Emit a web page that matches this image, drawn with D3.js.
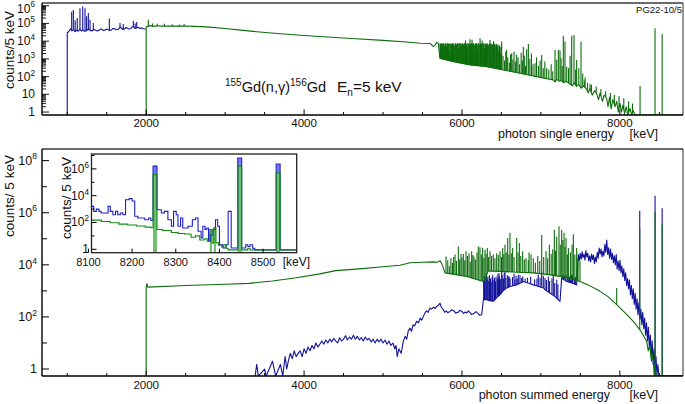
<!DOCTYPE html>
<html><head><meta charset="utf-8">
<script src="https://cdn.jsdelivr.net/npm/d3@7"></script>
<style>
body{margin:0;background:#fff}
svg{display:block}
text{font-family:"Liberation Sans",Arial,Helvetica,sans-serif;fill:#111}
</style></head>
<body><svg id="c" width="685" height="404"></svg>
<script>
// ---------------- DATA ----------------
const xMajorTicks = [2000, 4000, 6000, 8000];
const xMinorTicks = [1000,1500,2500,3000,3500,4500,5000,5500,6500,7000,7500,8500];
const topYLabels = [[1,"1",""],[10,"10",""],[1e2,"10","2"],[1e3,"10","3"],[1e4,"10","4"],[1e5,"10","5"],[1e6,"10","6"]];
const botYLabels = [[1,"1",""],[1e2,"10","2"],[1e4,"10","4"],[1e6,"10","6"],[1e8,"10","8"]];
const insetXTicks = [8100, 8200, 8300, 8400, 8500];
const insetYLabels = [[1,"1",""],[1e2,"10","2"],[1e4,"10","4"],[1e6,"10","6"]];

// single-energy spectrum (top), [keV, counts]
const singleBlueBase = [[1000,3.0e4],[1020,3.5e4],[1040,5.0e4],[1060,3.8e4],[1080,4.5e4],[1100,3.4e4],[1120,4.2e4],[1140,3.6e4],[1160,4.8e4],[1180,3.7e4],[1200,4.2e4],[1220,3.6e4],[1240,3.8e4],[1260,4.6e4],[1280,4.4e4],[1300,3.8e4],[1320,3.9e4],[1340,4.5e4],[1360,4.1e4],[1380,3.8e4],[1400,4.0e4],[1420,4.8e4],[1440,4.6e4],[1460,4.0e4],[1480,4.2e4],[1500,4.8e4],[1520,4.4e4],[1540,4.0e4],[1560,4.3e4],[1580,5.2e4],[1600,5.0e4],[1620,4.4e4],[1640,4.5e4],[1660,5.5e4],[1680,6.0e4],[1700,4.6e4],[1720,4.8e4],[1740,5.8e4],[1760,5.5e4],[1780,4.8e4],[1800,5.0e4],[1820,6.2e4],[1840,6.5e4],[1860,5.2e4],[1880,5.5e4],[1900,6.0e4],[1920,5.2e4],[1940,5.6e4],[1960,5.0e4],[1995,4.8e4]];
const singleBluePeaks = [[1056,4.6e5],[1077,5.8e5],[1100,1.5e5],[1127,2.0e5],[1161,7.2e5],[1196,8.9e5],[1225,7.2e5],[1245,2.5e5],[1267,3.9e5],[1288,1.6e5],[1330,1.07e5],[1533,1.9e5],[1668,1.07e5],[1710,9.4e4],[1837,1.4e5],[1860,1.0e5],[1880,1.2e5]];
const singleGreenBase = [[2000,6.5e4],[2050,7.5e4],[2100,6.8e4],[2150,7.4e4],[2200,7.0e4],[2300,7.2e4],[2400,7.0e4],[2500,7.1e4],[2600,6.8e4],[2700,6.6e4],[2800,6.2e4],[3000,5.2e4],[3200,4.2e4],[3400,3.4e4],[3700,2.6e4],[4000,2.1e4],[4300,1.7e4],[4600,1.4e4],[5000,1.1e4],[5300,9.0e3],[5469,7.6e3],[5600,7.3e3],[5637,4.9e3],[5660,6.0e3],[5680,8.5e3],[5700,7.5e3],[5722,1.07e3],[5891,690],[6102,450],[6313,360],[6524,235],[6735,154],[6946,100],[7158,64],[7180,50],[7200,70],[7230,55],[7260,60],[7290,45],[7320,55],[7369,38],[7400,30],[7420,45],[7450,28],[7480,35],[7510,22],[7540,30],[7580,19],[7600,12],[7620,22],[7650,9],[7680,16],[7707,11],[7730,5],[7750,12],[7780,4],[7800,9],[7833,6],[7850,2],[7870,7],[7890,1.5],[7910,5],[7940,2],[7960,4],[7980,1],[8002,3.1],[8020,1],[8040,2.5],[8060,0.8],[8080,2],[8100,0.7],[8129,1.6],[8150,0.6],[8170,1.2],[8192,0.5],[8800,0.5]];
const singleGreenPeaks = [[2027,1.6e5],[2080,1.0e5],[2140,9.5e4],[2230,9.5e4],[2330,9.0e4],[2420,8.8e4],[2480,9.2e4],
[5722,7.5e3],[5728,7e3],[5735,6e3],[5742,7.5e3],[5748,7.5e3],[5754,6.5e3],[5760,4e3],[5768,7.5e3],[5775,7e3],[5782,5.5e3],[5790,7.5e3],[5797,7e3],[5805,5e3],[5811,7.5e3],[5818,7.5e3],[5824,6e3],[5830,7e3],[5838,7.5e3],[5845,3e3],[5852,7e3],[5860,7.5e3],[5866,6.5e3],[5872,7e3],[5880,7.5e3],[5888,7.5e3],[5894,7e3],[5900,5e3],[5908,6e3],[5915,7.5e3],[5922,7.5e3],[5930,6.5e3],[5938,7e3],[5945,7.5e3],[5952,7.5e3],[5958,4e3],[5965,6.5e3],[5972,7.5e3],[5978,7.5e3],[5985,7e3],[5992,6e3],[6000,7.5e3],[6007,7.5e3],[6015,5.5e3],[6022,7e3],[6030,7.5e3],[6037,7.5e3],[6045,1.1e4],[6052,6e3],[6058,7e3],[6065,7.5e3],[6072,4.5e3],[6080,7e3],[6088,7.5e3],[6094,7.5e3],[6102,1.27e4],[6108,6.5e3],[6115,7e3],[6122,7.5e3],[6128,1.2e4],[6135,7e3],[6142,7.5e3],[6149,7.5e3],[6155,5e3],[6162,6.5e3],[6170,7e3],[6178,7.5e3],[6185,7.5e3],[6192,7e3],[6198,3.5e3],[6205,7.5e3],[6212,7.5e3],[6219,6e3],[6229,1.45e4],[6234,7.5e3],[6240,7e3],[6248,7e3],[6255,1.1e4],[6262,7.5e3],[6270,7.5e3],[6278,6.5e3],[6285,4e3],[6292,7.5e3],[6298,7e3],[6305,7e3],[6312,6e3],[6318,7.5e3],[6325,7e3],[6333,6.5e3],[6340,5e3],[6347,7e3],[6355,1.17e4],[6362,7.5e3],[6370,7e3],[6378,6.5e3],[6385,5.5e3],[6392,7e3],[6400,1.0e4],[6408,7.5e3],[6415,6e3],[6422,6.5e3],[6430,4e3],[6438,7e3],[6445,6.5e3],[6452,5e3],[6460,3e3],[6468,6e3],[6475,5.5e3],[6482,4.5e3],[6490,2e3],[6496,5e3],[6503,9.4e3],
[6520,1.5e3],[6540,800],[6555,2.5e3],[6566,3.2e3],[6580,1.2e3],[6600,600],[6615,1.8e3],[6630,2.1e3],[6645,900],[6660,2.6e3],[6680,700],[6693,1.7e3],[6710,1.2e3],[6730,500],[6750,2.2e3],[6765,800],[6777,4.9e3],[6790,1.5e3],[6805,400],[6820,3.5e3],[6841,6.9e3],[6860,1.0e3],[6880,2.0e3],[6900,500],[6925,560],[6945,1.2e3],[6970,400],[6990,800],[7010,1.66e3],[7030,300],[7050,700],[7073,295],[7100,250],[7130,500],[7150,200],[7179,3.2e3],[7200,900],[7221,3.2e3],[7242,3.0e3],[7255,1.07e3],[7270,400],[7284,2.0e4],[7305,9.4e3],[7327,360],[7350,300],[7370,1.5e3],[7390,2.0e4],[7419,2.2e4],[7440,250],[7453,870],[7480,300],[7508,9.4e3],[7530,150],[7550,60],[7560,90],[7590,45],[7622,40],[7640,35],[7700,28],[7760,20],[7820,15],[7880,12],[7930,9],[7990,8],[8050,6],[8110,4],[8160,3],[8256,29],[8446,5.4e4],[8536,2.5e4]];

// summed-energy spectrum (bottom), [keV, counts]
const sumBlueBase = [[3380,0.5],[3400,1.5],[3420,0.5],[3500,1],[3520,0.5],[3600,2],[3640,0.5],[3700,1.5],[3730,0.5],[3760,3],[3780,1],[3800,2],[3825,4],[3850,2.5],[3875,5],[3900,3],[3925,4],[3950,5],[3975,3],[4000,6],[4025,4],[4050,7],[4075,5],[4100,8],[4125,6],[4150,10],[4175,7],[4200,9],[4225,12],[4250,9],[4275,13],[4300,10],[4325,14],[4350,11],[4375,15],[4400,12],[4425,10],[4450,16],[4475,12],[4500,14],[4525,19],[4550,13],[4575,17],[4600,14],[4625,20],[4650,14],[4675,18],[4700,13],[4725,16],[4750,12],[4775,17],[4800,13],[4825,15],[4850,11],[4875,14],[4900,10],[4925,14],[4950,11],[4975,14],[5000,10],[5025,13],[5050,9],[5075,12],[5100,8],[5125,10],[5150,6],[5165,8],[5180,3],[5200,6],[5230,4],[5257,11.5],[5280,18],[5300,14],[5320,30],[5342,37],[5360,28],[5380,50],[5400,45],[5426,68],[5450,60],[5470,90],[5490,75],[5511,105],[5530,140],[5550,170],[5570,150],[5595,220],[5615,200],[5640,240],[5660,210],[5680,255],[5700,280],[5722,340],[5740,230],[5764,190],[5780,150],[5800,170],[5820,145],[5848,163],[5870,190],[5900,170],[5920,140],[5950,150],[5975,180],[6000,163],[6020,135],[6040,155],[6060,141],[6080,170],[6100,150],[6120,125],[6150,135],[6175,160],[6200,140],[6225,115],[6250,122],[6271,460],[6313,460],[6350,420],[6397,400],[6440,550],[6482,715],[6520,1e3],[6566,1.3e3],[6620,1.5e3],[6693,1.7e3],[6740,2e3],[6777,2.3e3],[6840,2e3],[6904,1.7e3],[6960,1.5e3],[7031,1.3e3],[7070,1e3],[7115,830],[7180,600],[7242,400],[7263,3.1e3],[7326,2.3e3],[7390,2e3],[7453,1.7e3],
[7474,2.5e4],[7486,1.4e4],[7498,2.8e4],[7510,1.6e4],[7522,3.2e4],[7534,1.9e4],[7546,2.6e4],[7558,1.5e4],[7570,3.5e4],[7582,2.0e4],[7594,2.8e4],[7606,1.4e4],[7618,2.2e4],[7630,1.3e4],[7642,2.6e4],[7654,1.6e4],[7666,2.4e4],[7678,1.1e4],[7690,2.0e4],[7702,1.3e4],[7714,3.0e4],[7726,1.8e4],[7738,4.4e4],[7750,2.6e4],[7762,4.0e4],[7774,2.0e4],[7786,3.4e4],[7798,2.2e4],[7810,6.0e4],[7822,3.0e4],[7834,9.0e4],[7846,2.5e4],[7858,4.5e4],[7870,1.8e4],[7882,4.0e4],[7894,1.6e4],[7906,2.8e4],[7918,1.2e4],[7930,2.2e4],[7942,1.0e4],[7954,2.5e4],[7966,7.0e3],[7978,1.4e4],[7990,6.0e3],[8002,1.5e4],[8014,5.0e3],[8026,9.0e3],[8038,3.5e3],[8050,7.0e3],[8062,2.5e3],[8074,5.0e3],[8086,1.6e3],[8098,3.0e3],[8110,1.2e3],[8122,2.6e3],[8134,700],[8146,1.6e3],[8158,500],[8170,1.2e3],[8182,300],[8194,800],[8206,200],[8218,500],[8230,120],[8242,350],[8254,80],[8266,200],[8278,50],[8290,150],[8302,35],[8314,90],[8326,20],[8338,60],[8350,12],[8362,40],[8374,6],[8386,20],[8398,3],[8410,12],[8422,1.5],[8434,6],[8446,0.6],[8458,3],[8470,0.6],[8482,1.5],[8494,0.5],[8800,0.5]];
const sumBluePeaks = [[6275,2.5e3],[6285,3.8e3],[6290,2.2e3],[6302,3.2e3],[6308,4.5e3],[6320,2.8e3],[6328,3.6e3],[6340,2.4e3],[6348,4e3],[6362,3e3],[6370,2.2e3],[6383,3.4e3],[6390,4.2e3],[6405,2.6e3],[6412,3.2e3],[6425,2.3e3],[6432,3.6e3],[6448,2.8e3],[6455,4.4e3],[6462,3e3],[6469,4.9e3],[6476,3.6e3],[6490,2.8e3],[6503,5.6e3],[6510,4e3],[6525,3e3],[6535,5e3],[6545,5.6e3],[6555,3.2e3],[6575,4e3],[6587,3.6e3],[6598,3.6e3],[6610,3e3],[6640,3.4e3],[6660,4.5e3],[6672,2.7e3],[6685,3.8e3],[6700,3e3],[6714,4.2e3],[6735,4e3],[6756,3.1e3],[6770,3.6e3],[6800,3e3],[6830,3.2e3],[6870,3.5e3],[6920,2.8e3],[6950,3e3],[6967,4.2e3],[6990,3.2e3],[7010,5.6e3],[7030,3.8e3],[7052,3.1e3],[7070,2.6e3],[7094,3.6e3],[7110,2.4e3],[7140,3e3],[7157,4.2e3],[7175,2e3],[7200,2.7e3],[7215,1.8e3],[7270,3.8e3],[7284,4.2e3],[7290,3.2e3],[7305,3.6e3],[7315,4e3],[7335,3.4e3],[7347,3.1e3],[7360,3.6e3],[7375,2.8e3],[7390,4.2e3],[7400,3.8e3],[7420,3e3],[7432,2.7e3],[7440,3.4e3],[7460,2.6e3],[8252,1.2e6],[8446,4.5e6],[8536,1.5e6]];
const sumGreenBase = [[2000,1.4e3],[2010,1.9e3],[2020,1.4e3],[2500,1.6e3],[3000,1.8e3],[3300,1.95e3],[3600,2.4e3],[3900,3.2e3],[4200,4.5e3],[4400,6.0e3],[4700,7.0e3],[5000,8.5e3],[5215,9.6e3],[5342,1.2e4],[5500,1.25e4],[5637,1.3e4],[5690,1.25e4],[5722,1.45e4],[5750,1.0e4],[5785,4.9e3],[6060,3.6e3],[6270,2.3e3],[6300,3.0e3],[6330,5.8e3],[6482,5.6e3],[6700,5.2e3],[6904,4.9e3],[7100,4.2e3],[7242,3.6e3],[7400,2.8e3],[7495,2.3e3],[7600,1.7e3],[7749,960],[7850,600],[7960,295],[8070,140],[8171,68],[8255,32],[8340,11.6],[8360,5],[8380,8],[8400,2],[8410,4],[8424,2.2],[8435,0.5],[8445,1.5],[8460,0.5],[8800,0.5]];
const sumGreenPeaks = [[5798,2.1e4],[5820,1.5e4],[5840,9e3],[5860,1.8e4],[5880,1.2e4],[5895,2e4],[5912,2.5e4],[5930,1.4e4],[5954,5.1e4],[5970,1.6e4],[5988,2.6e4],[6000,1.9e4],[6017,2.6e4],[6035,1.5e4],[6051,3.3e4],[6070,2.2e4],[6089,2.8e4],[6105,1.3e4],[6123,3.3e4],[6138,2.4e4],[6152,2.1e4],[6170,1.6e4],[6190,3e4],[6207,5.1e4],[6228,4.7e4],[6245,2.5e4],[6262,4.4e4],[6278,1.8e4],[6292,3.8e4],[6305,2.6e4],[6321,4.4e4],[6338,2e4],[6355,3.3e4],[6375,2.2e4],[6397,2.5e4],[6418,1.8e4],[6440,2.8e4],[6460,2.4e4],[6482,3.3e4],[6500,2e4],[6516,4.4e4],[6530,2.6e4],[6545,5.9e4],[6560,3e4],[6579,1.07e5],[6595,2.5e4],[6608,1.7e5],[6625,2.8e4],[6642,4.4e4],[6660,2e4],[6693,1.07e5],[6710,3e4],[6727,6.9e4],[6745,2.2e4],[6769,3.3e4],[6790,1.6e4],[6811,1.8e4],[6840,1.5e4],[6850,3e4],[6875,2.5e4],[6904,1.8e4],[6930,1.2e4],[6960,2.2e4],[6985,1.4e4],[7010,1.4e5],[7035,2e4],[7065,3.3e4],[7085,1.8e4],[7107,5.9e4],[7130,2.6e4],[7150,4e4],[7170,2.2e5],[7185,3.5e4],[7200,1.2e5],[7229,3.0e5],[7245,6e4],[7263,2.2e5],[7278,9e4],[7293,1.7e5],[7305,5e4],[7318,1.07e5],[7335,2.5e4],[7348,4.4e4],[7375,3e4],[7395,6e4],[7411,1.5e5],[7430,2.5e4],[7453,4.4e4],[7470,1.8e4],[7495,1.35e4],[7960,1.3e3],[8252,2.5e5],[8446,1.1e6],[8536,3.5e5]];

// inset (8100-8580 keV), step histograms [bin start keV, counts]
const insetBlue = [[8106,1600],[8112,680],[8118,1000],[8124,680],[8129,510],[8137,510],[8145,1600],[8150,680],[8156,380],[8162,680],[8167,380],[8173,510],[8179,380],[8185,5000],[8193,6000],[8200,4000],[8206,290],[8213,217],[8221,217],[8229,162],[8238,217],[8243,140],[8248,1.6e6],[8257,900],[8267,510],[8274,680],[8282,162],[8290,52],[8295,680],[8301,380],[8305,52],[8311,217],[8316,39],[8328,52],[8338,162],[8345,217],[8351,22],[8358,7],[8362,52],[8367,30],[8371,39],[8375,4],[8379,12],[8385,30],[8391,162],[8396,52],[8400,2.2],[8408,1.25],[8415,2.2],[8420,680],[8427,1.25],[8442,6.5e6],[8451,1.25],[8460,2.2],[8465,1.6],[8470,2.2],[8476,1.2],[8481,0.9],[8530,2.3e6],[8539,0.9],[8577,0.9]];
const insetGreen = [[8106,150],[8130,120],[8150,95],[8170,75],[8190,65],[8210,55],[8230,45],[8243,40],[8248,3.7e5],[8257,30],[8270,25],[8290,18],[8305,15],[8320,14],[8335,8],[8345,10],[8355,5],[8365,6],[8372,4],[8378,30],[8383,3],[8387,40],[8392,3],[8398,2],[8405,1.5],[8410,2.2],[8415,1.2],[8420,0.9],[8442,1.6e6],[8451,0.9],[8465,1.2],[8470,0.9],[8530,4.9e5],[8539,0.9],[8577,0.9]];
const insetBlueFill = [[8248,8257,1.6e6],[8442,8451,6.5e6],[8530,8539,2.3e6]];
const insetGreenFill = [[8248,8257,3.7e5],[8378,8383,30],[8387,8392,40],[8442,8451,1.6e6],[8530,8539,4.9e5]];

// ---------------- DRAW ----------------
const BLUE = "#12129a", GREEN = "#0b6d0b";
const svg = d3.select("#c");
const x = d3.scaleLinear().domain([680, 8800]).range([42, 683]);
const yTop = d3.scaleLog().domain([0.68, 1.42e6]).range([115, 3]).clamp(true);
const yBot = d3.scaleLog().domain([0.54, 2.8e8]).range([376, 149]).clamp(true);
const xi = d3.scaleLinear().domain([8107, 8577]).range([91.5, 296.7]);
const yi = d3.scaleLog().domain([0.557, 1.29e7]).range([252.7, 154]).clamp(true);

const defs = svg.append("defs");
function clip(id, x0, y0, x1, y1) {
  defs.append("clipPath").attr("id", id).append("rect")
    .attr("x", x0).attr("y", y0).attr("width", x1 - x0).attr("height", y1 - y0);
}
clip("cTop", 42, 3, 683, 115);
clip("cBot", 42, 149, 683, 376);
clip("cIn", 91.5, 154, 296.7, 252.7);

function spectrum(g, base, peaks, ys, color) {
  const floor = ys.domain()[0];
  const pts = [[base[0][0], floor]].concat(base);
  const line = d3.line().x(d => x(d[0])).y(d => ys(d[1]));
  const bl = d3.scaleLinear().domain(base.map(d => d[0])).range(base.map(d => Math.log10(d[1]))).clamp(true);
  const gg = g.append("g").attr("stroke", color).attr("fill", "none").attr("stroke-width", 1.1);
  gg.selectAll("path.s").data(peaks).join("path").attr("class", "s")
    .attr("d", d => `M${x(d[0])},${ys(Math.pow(10, bl(d[0])))}V${ys(d[1])}`);
  gg.append("path").attr("d", line(pts)).attr("stroke-linejoin", "round");
}

function supLabel(g, xx, yy, main, sup, fs, anchor) {
  const t = g.append("text").attr("x", xx).attr("y", yy).attr("font-size", fs).attr("text-anchor", anchor || "end");
  t.append("tspan").text(main);
  if (sup) t.append("tspan").attr("font-size", fs * 0.68).attr("dy", -fs * 0.42).text(sup);
  return t;
}

function frame(x0, y0, x1, y1) {
  svg.append("line").attr("x1", x0).attr("x2", x1).attr("y1", y0).attr("y2", y0).attr("stroke", "#6a6a6a").attr("stroke-width", 2);
  svg.append("line").attr("x1", x1).attr("x2", x1).attr("y1", y0).attr("y2", y1).attr("stroke", "#333").attr("stroke-width", 1);
  svg.append("line").attr("x1", x0).attr("x2", x1).attr("y1", y1).attr("y2", y1).attr("stroke", "#000").attr("stroke-width", 1.4);
  svg.append("line").attr("x1", x0).attr("x2", x0).attr("y1", y0).attr("y2", y1).attr("stroke", "#000").attr("stroke-width", 1.4);
}

function xTicks(yb, labY) {
  const g = svg.append("g").attr("stroke", "#000").attr("stroke-width", 1);
  xMinorTicks.forEach(t => g.append("line").attr("x1", x(t)).attr("x2", x(t)).attr("y1", yb).attr("y2", yb - 3));
  xMajorTicks.forEach(t => g.append("line").attr("x1", x(t)).attr("x2", x(t)).attr("y1", yb).attr("y2", yb - 5.5));
  xMajorTicks.forEach(t => svg.append("text").attr("x", x(t)).attr("y", labY).attr("font-size", 11.5).attr("text-anchor", "middle").text(t));
}

// ---- top panel
const gTop = svg.append("g").attr("clip-path", "url(#cTop)");
spectrum(gTop, singleBlueBase, singleBluePeaks, yTop, BLUE);
spectrum(gTop, singleGreenBase, singleGreenPeaks, yTop, GREEN);
frame(42, 3, 683, 115);
xTicks(115, 127);
{
  const g = svg.append("g").attr("stroke", "#000").attr("stroke-width", 0.9);
  for (let d = 0; d <= 6; d++) for (let m = 1; m <= 9; m++) {
    const v = m * Math.pow(10, d);
    if (v > 1.42e6) continue;
    const yy = yTop(v);
    g.append("line").attr("x1", 42).attr("x2", 42 + (m === 1 ? 7 : 4)).attr("y1", yy).attr("y2", yy);
  }
  topYLabels.forEach(d => supLabel(svg, 35, Math.max(yTop(d[0]) + 4, 12.5), d[1], d[2], 12));
}
svg.append("text").attr("transform", "translate(14,50) rotate(-90)").attr("text-anchor", "middle").attr("font-size", 13.5).text("counts/5 keV");
svg.append("text").attr("x", 614).attr("y", 138).attr("text-anchor", "end").attr("font-size", 12.5).text("photon single energy");
svg.append("text").attr("x", 658).attr("y", 138).attr("text-anchor", "end").attr("font-size", 12.5).text("[keV]");
svg.append("text").attr("x", 682).attr("y", 13).attr("text-anchor", "end").attr("font-size", 9.5).text("PG22-10/5");
{
  const t = svg.append("text").attr("x", 225).attr("y", 92).attr("font-size", 14.5);
  t.append("tspan").attr("font-size", 10).attr("dy", -6.5).text("155");
  t.append("tspan").attr("dy", 6.5).text("Gd(n,γ)");
  t.append("tspan").attr("font-size", 10).attr("dy", -6.5).text("156");
  t.append("tspan").attr("dy", 6.5).text("Gd");
  const t2 = svg.append("text").attr("x", 337).attr("y", 92).attr("font-size", 15.5);
  t2.append("tspan").text("E");
  t2.append("tspan").attr("font-size", 10).attr("dy", 3.5).text("n");
  t2.append("tspan").attr("dy", -3.5).text("=5 keV");
}

// ---- bottom panel
const gBot = svg.append("g").attr("clip-path", "url(#cBot)");
spectrum(gBot, sumBlueBase, sumBluePeaks, yBot, BLUE);
spectrum(gBot, sumGreenBase, sumGreenPeaks, yBot, GREEN);
frame(42, 149, 683, 376);
xTicks(376, 389);
{
  const g = svg.append("g").attr("stroke", "#000").attr("stroke-width", 1);
  for (let d = 0; d <= 8; d++) {
    const yy = yBot(Math.pow(10, d));
    g.append("line").attr("x1", 42).attr("x2", 42 + (d % 2 === 0 ? 7 : 5)).attr("y1", yy).attr("y2", yy);
  }
  botYLabels.forEach(d => supLabel(svg, 37, yBot(d[0]) + 4, d[1], d[2], 12.5));
}
svg.append("text").attr("transform", "translate(14,196) rotate(-90)").attr("text-anchor", "middle").attr("font-size", 13.5).text("counts/ 5 keV");
svg.append("text").attr("x", 610).attr("y", 399).attr("text-anchor", "end").attr("font-size", 12.5).text("photon summed energy");
svg.append("text").attr("x", 658).attr("y", 399).attr("text-anchor", "end").attr("font-size", 12.5).text("[keV]");

// ---- inset
svg.append("rect").attr("x", 91.5).attr("y", 154).attr("width", 296.7 - 91.5).attr("height", 252.7 - 154).attr("fill", "#fff");
{
  const gi = svg.append("g").attr("clip-path", "url(#cIn)");
  const floor = yi.domain()[0];
  gi.selectAll("rect.bf").data(insetBlueFill).join("rect").attr("class", "bf")
    .attr("x", d => xi(d[0])).attr("width", d => xi(d[1]) - xi(d[0]))
    .attr("y", d => yi(d[2])).attr("height", d => yi(floor) - yi(d[2])).attr("fill", "#7b7bf0");
  gi.selectAll("rect.gf").data(insetGreenFill).join("rect").attr("class", "gf")
    .attr("x", d => xi(d[0])).attr("width", d => xi(d[1]) - xi(d[0]))
    .attr("y", d => yi(d[2])).attr("height", d => yi(floor) - yi(d[2])).attr("fill", "#6fbf6f");
  const step = d3.line().curve(d3.curveStepAfter).x(d => xi(d[0])).y(d => yi(d[1]));
  gi.append("path").attr("d", step(insetBlue)).attr("fill", "none").attr("stroke", "#2020c8").attr("stroke-width", 1.1);
  gi.append("path").attr("d", step(insetGreen)).attr("fill", "none").attr("stroke", "#108a10").attr("stroke-width", 1.1);
}
svg.append("rect").attr("x", 91.5).attr("y", 154).attr("width", 296.7 - 91.5).attr("height", 252.7 - 154)
  .attr("fill", "none").attr("stroke", "#222").attr("stroke-width", 1.3);
{
  const g = svg.append("g").attr("stroke", "#000").attr("stroke-width", 1);
  insetXTicks.forEach(t => g.append("line").attr("x1", xi(t)).attr("x2", xi(t)).attr("y1", 252.7).attr("y2", 248.7));
  for (let d = 0; d <= 7; d++) {
    const yy = yi(Math.pow(10, d));
    g.append("line").attr("x1", 91.5).attr("x2", 91.5 + (d % 2 === 0 ? 5 : 3)).attr("y1", yy).attr("y2", yy);
  }
  insetXTicks.forEach(t => svg.append("text").attr("x", xi(t)).attr("y", 266).attr("font-size", 11).attr("text-anchor", "middle").text(t));
  insetYLabels.forEach(d => supLabel(svg, 89, yi(d[0]) + 4, d[1], d[2], 12));
}
svg.append("text").attr("transform", "translate(71,198) rotate(-90)").attr("text-anchor", "middle").attr("font-size", 13.5).text("counts/ 5 keV");
svg.append("text").attr("x", 310).attr("y", 266).attr("text-anchor", "end").attr("font-size", 12).text("[keV]");
</script></body></html>
